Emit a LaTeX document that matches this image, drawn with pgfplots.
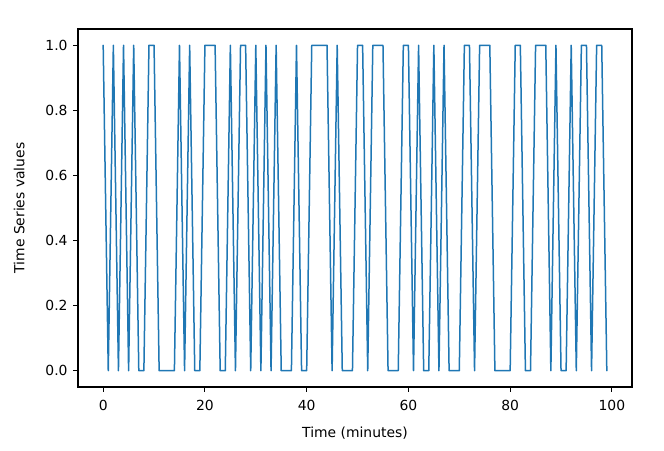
\documentclass[border=0pt]{standalone}
\usepackage{fontspec}
\setmainfont{DejaVu Sans}
\usepackage{pgfplots}
\pgfplotsset{compat=1.18}
\definecolor{mplblue}{HTML}{1F77B4}
\begin{document}
\begin{tikzpicture}
\useasboundingbox (-78pt,-63pt) rectangle (586pt,387pt);
\begin{axis}[
  at={(0pt,0pt)}, anchor=south west,
  scale only axis, width=554pt, height=358pt,
  xmin=-4.95, xmax=103.95, ymin=-0.05, ymax=1.05,
  xtick={0,20,40,60,80,100},
  ytick={0,0.2,0.4,0.6,0.8,1.0},
  yticklabel style={/pgf/number format/fixed,/pgf/number format/fixed zerofill,/pgf/number format/precision=1},
  /pgf/number format/assume math mode=true,
  tick align=outside, major tick length=4.9pt,
  xtick pos=bottom, ytick pos=left,
  tick style={black, line width=1.1pt},
  axis line style={black, line width=1.1pt},
  ticklabel style={font=\fontsize{13.9}{16}\selectfont},
  label style={font=\fontsize{13.9}{16}\selectfont},
  xticklabel style={yshift=-5pt},
  yticklabel style={xshift=-2pt},
  xlabel={Time (minutes)}, ylabel={Time Series values},
  xlabel style={yshift=-9pt},
  ylabel style={yshift=14pt},
]
\addplot[mplblue, line width=1.5pt, line join=round, line cap=round] table[row sep=\\] {
x y\\
0 1\\ 1 0\\ 2 1\\ 3 0\\ 4 1\\ 5 0\\ 6 1\\ 7 0\\ 8 0\\ 9 1\\
10 1\\ 11 0\\ 12 0\\ 13 0\\ 14 0\\ 15 1\\ 16 0\\ 17 1\\ 18 0\\ 19 0\\
20 1\\ 21 1\\ 22 1\\ 23 0\\ 24 0\\ 25 1\\ 26 0\\ 27 1\\ 28 1\\ 29 0\\
30 1\\ 31 0\\ 32 1\\ 33 0\\ 34 1\\ 35 0\\ 36 0\\ 37 0\\ 38 1\\ 39 0\\
40 0\\ 41 1\\ 42 1\\ 43 1\\ 44 1\\ 45 0\\ 46 1\\ 47 0\\ 48 0\\ 49 0\\
50 1\\ 51 1\\ 52 0\\ 53 1\\ 54 1\\ 55 1\\ 56 0\\ 57 0\\ 58 0\\ 59 1\\
60 1\\ 61 0\\ 62 1\\ 63 0\\ 64 0\\ 65 1\\ 66 0\\ 67 1\\ 68 0\\ 69 0\\
70 0\\ 71 1\\ 72 1\\ 73 0\\ 74 1\\ 75 1\\ 76 1\\ 77 0\\ 78 0\\ 79 0\\
80 0\\ 81 1\\ 82 1\\ 83 0\\ 84 0\\ 85 1\\ 86 1\\ 87 1\\ 88 0\\ 89 1\\
90 0\\ 91 0\\ 92 1\\ 93 0\\ 94 1\\ 95 1\\ 96 0\\ 97 1\\ 98 1\\ 99 0\\
};
\end{axis}
\end{tikzpicture}
\end{document}
